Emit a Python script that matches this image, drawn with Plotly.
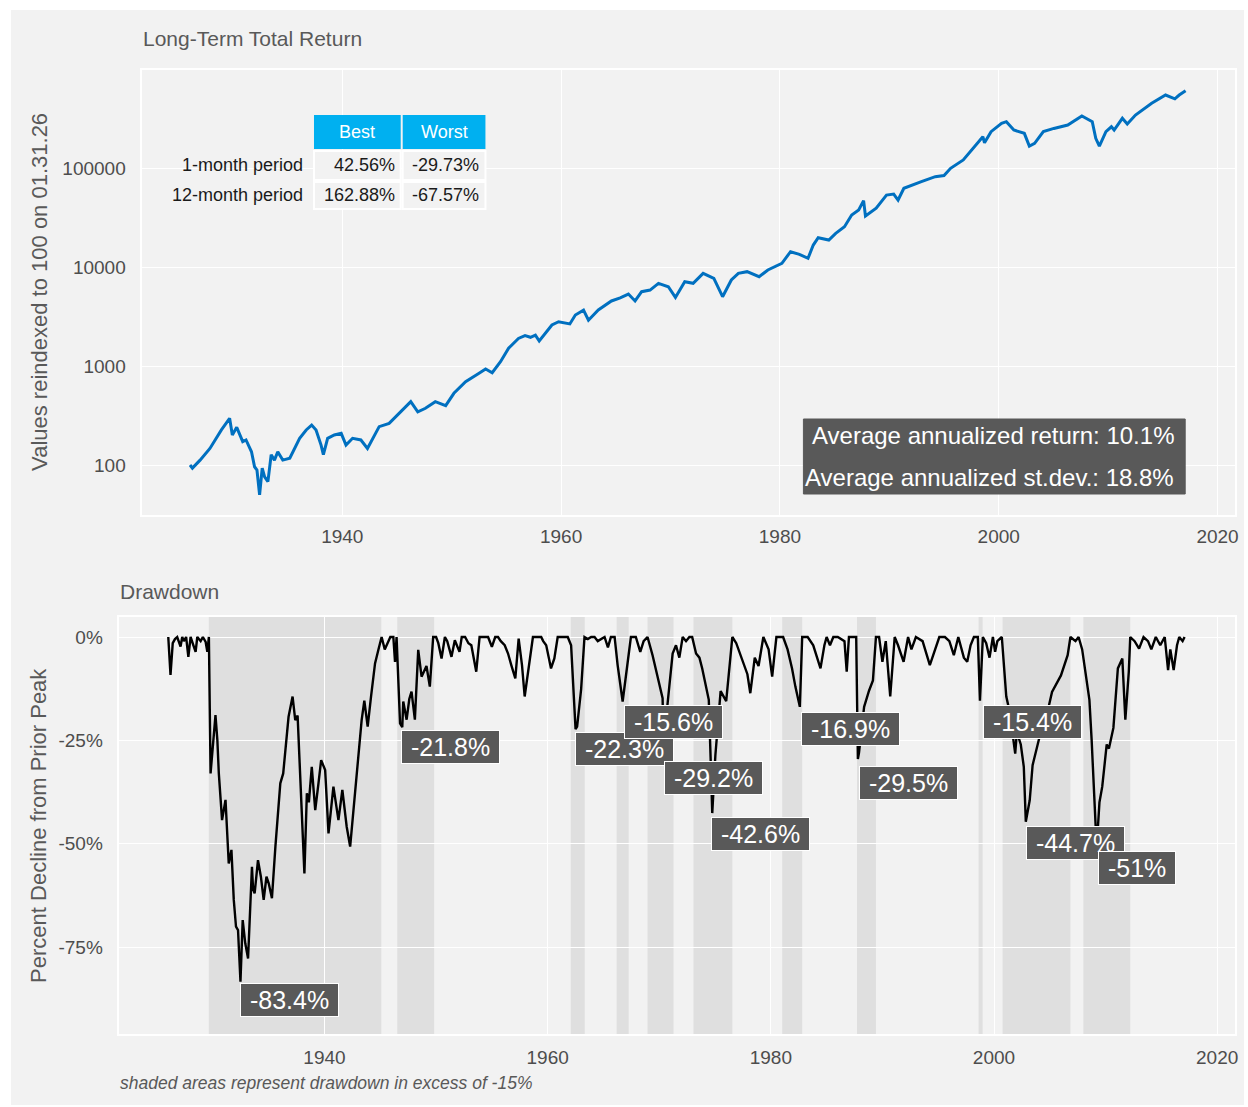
import plotly.graph_objects as go

# ---------------- data ----------------
top_years = [1926.08, 1926.3, 1927.0, 1927.9, 1928.95, 1929.7, 1929.95, 1930.35, 1930.9, 1931.2,
             1931.7, 1931.98, 1932.2, 1932.44, 1932.68, 1932.9, 1933.2, 1933.5, 1933.8, 1934.1,
             1934.56, 1935.2, 1936.1, 1936.7, 1937.2, 1937.6, 1938.06, 1938.27, 1938.66, 1939.27,
             1939.9, 1940.34, 1940.94, 1941.7, 1942.3, 1943.37, 1944.28, 1945.2, 1946.26, 1946.9,
             1947.6, 1948.5, 1949.45, 1950.2, 1951.27, 1952.5, 1953.1, 1953.7, 1954.46, 1955.2,
             1956.1, 1956.7, 1957.2, 1957.65, 1958.0, 1959.16, 1959.77, 1960.8, 1961.3, 1962.05,
             1962.5, 1963.4, 1964.6, 1965.4, 1966.15, 1966.76, 1967.36, 1968.13, 1968.9, 1969.8,
             1970.45, 1971.3, 1972.07, 1972.98, 1973.96, 1974.76, 1975.56, 1976.2, 1977.0, 1978.1,
             1978.9, 1980.18, 1980.97, 1981.78, 1982.57, 1983.05, 1983.5, 1984.47, 1985.1, 1985.9,
             1986.56, 1987.2, 1987.65, 1987.82, 1988.8, 1989.74, 1990.4, 1990.8, 1991.33, 1992.93,
             1994.2, 1995.0, 1995.6, 1996.76, 1997.4, 1998.0, 1998.55, 1998.7, 1999.3, 2000.26,
             2000.7, 2001.38, 2001.86, 2002.34, 2002.8, 2003.28, 2004.08, 2005.04, 2006.31, 2007.6,
             2008.55, 2008.87, 2009.2, 2009.8, 2010.3, 2010.55, 2011.3, 2011.75, 2012.5, 2013.98,
             2015.25, 2015.9, 2016.1, 2016.5, 2017.08]
top_values = [100, 93, 112, 147, 226, 296, 201, 240, 172, 179,
              136, 96, 89, 50, 93, 76, 68, 127, 112, 136,
              112, 117, 186, 226, 253, 226, 159, 127, 186, 201,
              209, 159, 186, 179, 147, 244, 263, 333, 436, 345,
              374, 436, 398, 530, 693, 844, 932, 855, 1104, 1510,
              1900, 2025, 1950, 2050, 1790, 2594, 2800, 2660, 3270, 3670,
              2900, 3680, 4540, 4870, 5330, 4540, 5630, 5850, 6840, 6320,
              4930, 7100, 6840, 8630, 7660, 5010, 7390, 8630, 8970, 7980,
              9330, 10900, 14280, 13430, 12240, 16670, 19770, 18740, 21900, 25500,
              33500, 37600, 46800, 32700, 39200, 53300, 54500, 47500, 62400, 72800,
              81700, 84000, 99300, 120500, 146200, 170700, 207000, 180000, 233000, 282500,
              294000, 242000, 233000, 224000, 166700, 177400, 233000, 251000, 271600, 335000,
              294000, 199600, 166700, 233000, 261000, 242000, 318000, 278000, 343000, 451000,
              546000, 506000, 500000, 546000, 604000]

dd_years = [1926.0, 1926.2, 1926.4, 1926.6, 1926.8, 1927.1, 1927.25, 1927.4, 1927.6, 1927.8,
            1928.0, 1928.2, 1928.45, 1928.6, 1928.9, 1929.1, 1929.35, 1929.5, 1929.64, 1929.79,
            1930.0, 1930.23, 1930.4, 1930.53, 1930.82, 1931.13, 1931.42, 1931.66, 1931.87, 1932.07,
            1932.25, 1932.47, 1932.67, 1932.9, 1933.15, 1933.5, 1933.6, 1933.74, 1934.04, 1934.3,
            1934.55, 1934.8, 1935.0, 1935.29, 1935.6, 1936.04, 1936.3, 1936.5, 1936.78, 1937.14,
            1937.38, 1937.59, 1937.83, 1938.03, 1938.2, 1938.42, 1938.6, 1938.86, 1939.17, 1939.46,
            1939.7, 1940.06, 1940.36, 1940.8, 1941.25, 1941.6, 1941.99, 1942.3, 1942.74, 1943.04,
            1943.33, 1943.57, 1943.87, 1944.17, 1944.53, 1944.83, 1945.12, 1945.4, 1945.72, 1945.9,
            1946.17, 1946.32, 1946.46, 1946.77, 1946.97, 1947.06, 1947.36, 1947.6, 1947.8, 1948.1,
            1948.4, 1948.7, 1949.14, 1949.44, 1949.74, 1950.0, 1950.2, 1950.49, 1950.79, 1951.0,
            1951.38, 1951.68, 1952.1, 1952.3, 1952.6, 1952.9, 1953.16, 1953.6, 1953.9, 1954.3,
            1954.66, 1955.0, 1955.3, 1955.55, 1955.8, 1956.15, 1956.45, 1956.74, 1957.1, 1957.4,
            1957.7, 1957.94, 1958.38, 1958.68, 1959.0, 1959.42, 1959.6, 1959.87, 1960.3, 1960.6,
            1960.9, 1961.3, 1961.8, 1962.1, 1962.46, 1962.5, 1962.64, 1963.0, 1963.3, 1963.6,
            1963.9, 1964.2, 1964.49, 1965.1, 1965.4, 1965.67, 1966.0, 1966.27, 1966.72, 1967.1,
            1967.46, 1967.9, 1968.1, 1968.3, 1968.6, 1968.95, 1969.4, 1969.85, 1970.3, 1970.4,
            1970.6, 1970.9, 1971.2, 1971.5, 1971.8, 1972.1, 1972.4, 1972.7, 1972.95, 1973.3,
            1973.6, 1973.85, 1974.1, 1974.44, 1974.6, 1974.75, 1975.03, 1975.3, 1975.5, 1976.0,
            1976.55, 1976.9, 1977.4, 1977.9, 1978.16, 1978.56, 1978.9, 1979.33, 1979.8, 1980.12,
            1980.3, 1980.5, 1980.9, 1981.1, 1981.5, 1981.9, 1982.2, 1982.6, 1982.81, 1983.3,
            1983.8, 1984.45, 1984.8, 1985.0, 1985.3, 1985.6, 1986.0, 1986.6, 1986.8, 1987.0,
            1987.65, 1987.8, 1987.9, 1988.36, 1988.8, 1989.15, 1989.42, 1989.7, 1990.0, 1990.3,
            1990.7, 1991.1, 1991.4, 1991.9, 1992.3, 1992.6, 1993.0, 1993.6, 1994.25, 1994.7,
            1995.1, 1995.6, 1996.0, 1996.4, 1996.8, 1997.3, 1997.6, 1997.9, 1998.2, 1998.55,
            1998.74, 1999.0, 1999.3, 1999.6, 1999.9, 2000.1, 2000.3, 2000.7, 2000.9, 2001.1,
            2001.4, 2001.7, 2001.9, 2002.05, 2002.4, 2002.67, 2002.85, 2003.2, 2003.46, 2004.05,
            2004.8, 2005.2, 2006.0, 2006.6, 2006.85, 2007.3, 2007.58, 2007.9, 2008.16, 2008.55,
            2008.75, 2009.06, 2009.2, 2009.45, 2009.7, 2010.1, 2010.3, 2010.7, 2011.1, 2011.5,
            2011.77, 2012.08, 2012.21, 2012.6, 2013.0, 2013.4, 2013.8, 2014.1, 2014.5, 2014.9,
            2015.3, 2015.6, 2015.8, 2016.1, 2016.4, 2016.6, 2016.9, 2017.08]
dd_values = [0, -9.2, -1.5, -0.5, 0, -2.3, 0, -1.0, 0, -4.8,
             0, -1.5, -3.6, 0, -1.0, 0, -1.2, -3.6, 0, -33.0,
             -26, -18.9, -25, -33, -44.3, -39.4, -54.8, -51.5, -63.6, -70.1,
             -70.9, -83.4, -68.5, -74.1, -77.8, -55.6, -61, -62.0, -54.0, -58,
             -63.6, -58, -59.6, -63.2, -50.7, -35.4, -33, -26.5, -19.3, -14.4,
             -20.1, -19, -33.8, -47.5, -57.2, -37.8, -40, -31.4, -41.9, -35.4,
             -29.8, -32.2, -47.5, -36.2, -44.3, -37.0, -45.9, -50.7, -37.8, -29.8,
             -20.1, -15.4, -21.7, -14.4, -6.4, -3.1, 0, -3, -0.8, 0,
             0, -6.0, 0, -20.9, -21.8, -15.6, -20, -15, -13.2, -20,
             -3.1, -9.6, -7, -12, 0, 0, -1.5, -5.2, 0, -1,
             -4.8, -0.8, -3.6, 0, 0, -1.5, -2, -8.4, 0, 0,
             0, -2.4, 0, 0, -1, -2, -4, -6.8, -10, -0.4,
             -6.8, -14.4, -5.2, 0, 0, 0, -1, -2, -7.6, -5.2,
             0, 0, 0, -2, -18, -22.3, -21.7, -12.6, 0, -0.5,
             0, 0, -1, 0, -2.5, 0, 0, -6.8, -15.6, -7.6,
             0, 0, -2, -3.6, -1, 0, -4.4, -10, -14.8, -29.2,
             -20, -12, -4, -2, -5, 0, -1, 0, 0, -4,
             -5, -7.6, -11, -15.2, -29, -42.6, -28.6, -20, -13.1, -15.5,
             0, -1.5, -5, -9, -13.6, -5, -7, 0, -3, -9.6,
             -5, 0, 0, 0, -3, -7.6, -12, -16.9, 0, 0,
             -2, -7.6, -2, 0, -2, 0, 0, -1, -8.4, 0,
             0, -29.5, -28, -16.9, -13, -10.5, 0, 0, -6, -1,
             -14.4, 0, -2, -6, 0, -3, 0, -1, -6.8, -3,
             0, 0, -1, -4.4, 0, -5, -6, -2, 0, 0,
             -15.4, 0, -1.5, -5, 0, -3.6, -1, 0, -8, -14.4,
             -18, -24.9, -28.2, -23, -26, -31.4, -44.7, -39.5, -31, -24.5,
             -18, -13.3, -9.3, -4.4, 0, -1, 0, -3, -7.6, -15.2,
             -24.9, -44.3, -51, -40, -36.2, -26, -27, -22, -7.6, -5.2,
             -20, -8.4, 0, -1, -2.8, 0, -1, -3, 0, -2,
             0, -8, -3, -8, -2, 0, -1, 0]

shade_start = [1929.63, 1946.52, 1962.07, 1966.18, 1968.95, 1973.07, 1981.02, 1987.72, 1998.62, 2000.77, 2008.01]
shade_end = [1945.09, 1949.83, 1963.32, 1967.26, 1971.28, 1976.55, 1982.81, 1989.42, 1998.98, 2006.85, 2012.21]

label_x = [1932.45, 1946.88, 1962.43, 1966.81, 1970.47, 1974.67, 1982.72, 1987.90, 1998.98, 2002.91, 2009.35]
label_y = [-83.7, -22.5, -23.0, -16.45, -30.0, -43.55, -18.15, -31.2, -16.45, -45.7, -51.8]
label_text = ["-83.4%", "-21.8%", "-22.3%", "-15.6%", "-29.2%", "-42.6%", "-16.9%", "-29.5%", "-15.4%", "-44.7%", "-51%"]

year_ticks = [1940, 1960, 1980, 2000, 2020]
top_tickvals = [100, 1000, 10000, 100000]
top_ticktext = ["100", "1000", "10000", "100000"]
dd_tickvals = [0, -25, -50, -75]
dd_ticktext = ["0%", "-25%", "-50%", "-75%"]

table_cols = ["Best", "Worst"]
table_rows = ["1-month period", "12-month period"]
table_best = ["42.56%", "162.88%"]
table_worst = ["-29.73%", "-67.57%"]

stats_lines = ["Average annualized return: 10.1%", "Average annualized st.dev.: 18.8%"]

# ---------------- figure ----------------
W, H = 1248, 1107
FONT = "Liberation Sans, Arial, sans-serif"
GREY_TXT = "#4d4d4d"
BG = "#f2f2f2"


def X(p):
    return p / W


def Y(p):
    return 1 - p / H


fig = go.Figure()
fig.add_trace(go.Scatter(x=top_years, y=top_values, mode="lines",
                         line=dict(color="#0070c0", width=3),
                         xaxis="x", yaxis="y", showlegend=False, hoverinfo="skip"))
fig.add_trace(go.Scatter(x=dd_years, y=dd_values, mode="lines",
                         line=dict(color="black", width=2.4),
                         xaxis="x2", yaxis="y2", showlegend=False, hoverinfo="skip"))

axis_common = dict(showgrid=True, gridcolor="white", gridwidth=1, zeroline=False,
                   showline=True, linecolor="white", linewidth=2, mirror=True,
                   ticks="outside", tickcolor="rgba(0,0,0,0)",
                   tickfont=dict(family=FONT, size=19, color=GREY_TXT))

shapes = [dict(type="rect", xref="paper", yref="paper", x0=X(11), x1=1, y0=Y(1105), y1=Y(10),
               fillcolor=BG, line=dict(width=0), layer="below")]
for s0, s1 in zip(shade_start, shade_end):
    shapes.append(dict(type="rect", xref="x2", yref="y2 domain", x0=s0, x1=s1, y0=0, y1=1,
                       fillcolor="#dfdfdf", line=dict(width=0), layer="below"))

# table cells
col_x = [(315, 402), (404, 487)]
row_y = [(151, 180), (182, 209)]
for cx in col_x:
    shapes.append(dict(type="rect", xref="paper", yref="paper", x0=X(cx[0]), x1=X(cx[1]),
                       y0=Y(149), y1=Y(115), fillcolor="#00b0f0", line=dict(width=0)))
    for ry in row_y:
        shapes.append(dict(type="rect", xref="paper", yref="paper", x0=X(cx[0]), x1=X(cx[1]),
                           y0=Y(ry[1]), y1=Y(ry[0]), fillcolor=BG,
                           line=dict(color="white", width=2)))

# stats box
shapes.append(dict(type="rect", xref="paper", yref="paper", x0=X(806), x1=X(1189),
                   y0=Y(494), y1=Y(419), fillcolor="#595959", line=dict(color="#595959", width=1)))

annotations = []
annotations.append(dict(text="Long-Term Total Return", xref="paper", yref="paper", x=X(141), y=Y(38),
                        xanchor="left", yanchor="middle", showarrow=False,
                        font=dict(family=FONT, size=21, color="#595959")))
annotations.append(dict(text="Drawdown", xref="paper", yref="paper", x=X(118), y=Y(591),
                        xanchor="left", yanchor="middle", showarrow=False,
                        font=dict(family=FONT, size=21, color="#595959")))
annotations.append(dict(text="Values reindexed to 100 on 01.31.26", xref="paper", yref="paper",
                        x=X(39), y=Y(292), textangle=-90, xanchor="center", yanchor="middle",
                        showarrow=False, font=dict(family=FONT, size=22, color="#595959")))
annotations.append(dict(text="Percent Decline from Prior Peak", xref="paper", yref="paper",
                        x=X(39), y=Y(825), textangle=-90, xanchor="center", yanchor="middle",
                        showarrow=False, font=dict(family=FONT, size=22, color="#595959")))
annotations.append(dict(text="<i>shaded areas represent drawdown in excess of -15%</i>", xref="paper",
                        yref="paper", x=X(118), y=Y(1083), xanchor="left", yanchor="middle",
                        showarrow=False, font=dict(family=FONT, size=17.5, color="#595959")))

# table text
for i, c in enumerate(table_cols):
    annotations.append(dict(text=c, xref="paper", yref="paper", x=X((col_x[i][0] + col_x[i][1]) / 2),
                            y=Y(132), xanchor="center", yanchor="middle", showarrow=False,
                            font=dict(family=FONT, size=18, color="white")))
for j, r in enumerate(table_rows):
    yc = Y((row_y[j][0] + row_y[j][1]) / 2)
    annotations.append(dict(text=r, xref="paper", yref="paper", x=X(306), y=yc, xanchor="right",
                            yanchor="middle", showarrow=False,
                            font=dict(family=FONT, size=18, color="#1a1a1a")))
    annotations.append(dict(text=table_best[j], xref="paper", yref="paper", x=X(398), y=yc,
                            xanchor="right", yanchor="middle", showarrow=False,
                            font=dict(family=FONT, size=18, color="#1a1a1a")))
    annotations.append(dict(text=table_worst[j], xref="paper", yref="paper", x=X(483), y=yc,
                            xanchor="right", yanchor="middle", showarrow=False,
                            font=dict(family=FONT, size=18, color="#1a1a1a")))

# stats text
for k, (line, yp) in enumerate(zip(stats_lines, [435, 477])):
    annotations.append(dict(text=line, xref="paper", yref="paper", x=X(1180), y=Y(yp),
                            xanchor="right", yanchor="middle", showarrow=False,
                            font=dict(family=FONT, size=24, color="white")))

# drawdown labels
NB = "\u00a0"
for lx, ly, lt in zip(label_x, label_y, label_text):
    annotations.append(dict(text=NB + lt + NB, xref="x2", yref="y2", x=lx, y=ly,
                            xanchor="left", yanchor="top", showarrow=False,
                            bgcolor="#595959", bordercolor="white", borderwidth=1, borderpad=2,
                            font=dict(family=FONT, size=25, color="white")))

fig.update_layout(
    width=W, height=H,
    margin=dict(l=0, r=0, t=0, b=0),
    paper_bgcolor="white", plot_bgcolor=BG,
    showlegend=False,
    xaxis=dict(domain=[X(142), X(1239)], anchor="y", range=[1921.65, 2021.6],
               tickvals=year_ticks, ticklen=3, **axis_common),
    yaxis=dict(domain=[Y(515), Y(70)], anchor="x", type="log", range=[1.495, 5.99],
               tickvals=top_tickvals, ticktext=top_ticktext, ticklen=10, **axis_common),
    xaxis2=dict(domain=[X(119), X(1239)], anchor="y2", range=[1921.55, 2021.6],
                tickvals=year_ticks, ticklen=5, **axis_common),
    yaxis2=dict(domain=[Y(1034), Y(617)], anchor="x2", range=[-96.05, 4.84],
                tickvals=dd_tickvals, ticktext=dd_ticktext, ticklen=10, **axis_common),
    shapes=shapes,
    annotations=annotations,
)

fig.write_html("out.html")
